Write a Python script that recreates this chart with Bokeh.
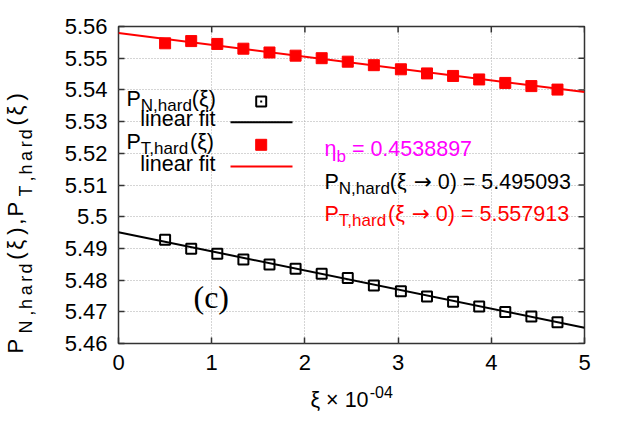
import math
from bokeh.plotting import figure
from bokeh.layouts import row, column
from bokeh.models import Range1d, Label, FixedTicker, CustomJSTickFormatter
from bokeh.embed import file_html
from bokeh.resources import INLINE

# ---------------- data ----------------
xi = [0.50, 0.78, 1.06, 1.34, 1.62, 1.90, 2.18, 2.46, 2.74, 3.03, 3.31, 3.59, 3.87, 4.15, 4.43, 4.71]
p_n_hard = [5.4927, 5.4899, 5.4883, 5.4865, 5.4849, 5.4836, 5.4820, 5.4807,
            5.4783, 5.4765, 5.4748, 5.4732, 5.4717, 5.4699, 5.4685, 5.4667]
p_t_hard = [5.5547, 5.5554, 5.5545, 5.5530, 5.5518, 5.5508, 5.5500, 5.5489,
            5.5478, 5.5465, 5.5452, 5.5444, 5.5433, 5.5422, 5.5412, 5.5401]
fit_n_intercept, fit_n_slope = 5.495093, -0.00602
fit_t_intercept, fit_t_slope = 5.557913, -0.00372
fit_x = [0.0, 5.0]
eta_b_text = "0.4538897"
pn0_text = "5.495093"
pt0_text = "5.557913"
x_ticks = [0, 1, 2, 3, 4, 5]
y_ticks = [5.46, 5.47, 5.48, 5.49, 5.50, 5.51, 5.52, 5.53, 5.54, 5.55, 5.56]

# ---------------- layout (page pixels) ----------------
PAGE_W, PAGE_H = 623, 436
YLAB_W = 45                     # left strip holding the y-axis title
MAIN_W, MAIN_H = PAGE_W - YLAB_W, 383
XLAB_H = PAGE_H - MAIN_H        # bottom strip holding the x-axis title
FL, FR, FT, FB = 118, 584, 26, 343   # frame edges in page pixels
X0, X1 = 0.0, 5.0
Y0, Y1 = 5.46, 5.56
FW, FH = FR - FL, FB - FT
FONT = "Liberation Sans"
SERIF = "Liberation Serif"
MAIN = 21.5
SUB = 17
TICK = 6
K_BASE = {FONT: 0.40, SERIF: 0.35, "DejaVu Sans": 0.40}   # baseline correction


def dx(px):
    return X0 + (px - FL) / FW * (X1 - X0)


def dy(py):
    return Y1 - (py - FT) / FH * (Y1 - Y0)


AW = {'P': .667, 'N': .722, 'T': .611, ',': .278, 'h': .556, 'a': .556, 'r': .333,
      'd': .556, '(': .333, ')': .333, ' ': .278, '=': .584, '.': .278, 'b': .556,
      'η': .556, 'ξ': .5, '→': .838, '×': .584, '-': .333, 'l': .222, 'i': .222,
      'n': .556, 'e': .556, 'f': .278, 't': .278}


def tw(s, size):
    return sum(AW.get(c, .556) for c in s) * size


p = figure(width=MAIN_W, height=MAIN_H, x_range=Range1d(X0, X1), y_range=Range1d(Y0, Y1),
           output_backend="svg", toolbar_location=None,
           min_border_left=FL - YLAB_W, min_border_right=PAGE_W - FR,
           min_border_top=FT, min_border_bottom=MAIN_H - FB)
p.background_fill_color = "white"
p.border_fill_color = "white"
p.outline_line_color = "#333333"
p.outline_line_width = 1.5

xax = p.below[0]
yax = p.left[0]
xax.ticker = FixedTicker(ticks=x_ticks)
yax.ticker = FixedTicker(ticks=y_ticks)
yax.formatter = CustomJSTickFormatter(code="return String(Math.round(tick*100)/100)")

for ax in (xax, yax):
    ax.axis_line_color = None
    ax.major_tick_in = TICK
    ax.major_tick_out = 0
    ax.major_tick_line_color = "#333333"
    ax.major_tick_line_width = 1.5
    ax.minor_tick_line_color = None
    ax.major_label_text_font = FONT
    ax.major_label_text_font_size = "22px"
    ax.major_label_text_color = "black"
yax.major_label_standoff = 11
xax.major_label_standoff = 11

for g in (p.xgrid[0], p.ygrid[0]):
    g.grid_line_color = "#aaaaaa"
    g.grid_line_dash = "1 2"
    g.grid_line_width = 1

# mirrored inward ticks on top and right border
tx = (X1 - X0) * TICK / FW
ty = (Y1 - Y0) * TICK / FH
p.segment(x0=x_ticks, y0=[Y1] * len(x_ticks), x1=x_ticks, y1=[Y1 - ty] * len(x_ticks),
          line_color="#333333", line_width=1.5)
p.segment(x0=[X1] * len(y_ticks), y0=y_ticks, x1=[X1 - tx] * len(y_ticks), y1=y_ticks,
          line_color="#333333", line_width=1.5)

# ---------------- data marks ----------------
fit_n_y = [fit_n_intercept + fit_n_slope * x for x in fit_x]
fit_t_y = [fit_t_intercept + fit_t_slope * x for x in fit_x]

p.scatter(xi, p_n_hard, marker="square", size=10, fill_color=None,
          line_color="black", line_width=2)
p.line(fit_x, fit_n_y, line_color="black", line_width=2)
p.scatter(xi, p_t_hard, marker="square", size=11, fill_color="red",
          line_color="red", line_width=1)
p.line(fit_x, fit_t_y, line_color="red", line_width=2)

# ---------------- legend samples ----------------
p.scatter([dx(260.7)], [dy(101)], marker="square", size=10, fill_color=None,
          line_color="black", line_width=2)
p.scatter([dx(260.7)], [dy(101)], marker="square", size=2, fill_color="black",
          line_color=None)
p.line([dx(230), dx(292)], [dy(121.7), dy(121.7)], line_color="black", line_width=2)
p.scatter([dx(260.7)], [dy(144.3)], marker="square", size=11, fill_color="red",
          line_color="red", line_width=1)
p.line([dx(230), dx(292)], [dy(166), dy(166)], line_color="red", line_width=2)


def add_label(fig, to_x, to_y, x_px, y_px, text, size, color="black", align="left",
              rotated=False, font=FONT):
    k = K_BASE.get(font, 0.4) * size
    if rotated:
        x_px -= k
    else:
        y_px -= k
    fig.add_layout(Label(x=to_x(x_px), y=to_y(y_px), text=text, text_font=font,
                         text_font_size=f"{size}px", text_color=color,
                         text_baseline="alphabetic", text_align=align,
                         angle=(math.pi / 2 if rotated else 0.0), angle_units="rad"))


def run(fig, to_x, to_y, pieces, x_px, base_px, color):
    cur = x_px
    for piece in pieces:
        txt, size, shift = piece[:3]
        font = piece[3] if len(piece) > 3 else FONT
        stripped = txt.lstrip(" ")
        cur += tw(txt[:len(txt) - len(stripped)], size)
        add_label(fig, to_x, to_y, cur, base_px + shift, stripped, size, color, font=font)
        cur += tw(stripped, size)


run(p, dx, dy, [("P", MAIN, 0), ("N,hard", SUB, 5), ("(ξ)", MAIN, 0)], 126.0, 106.7, "black")
add_label(p, dx, dy, 215, 127.3, "linear fit", MAIN, "black", align="right")
run(p, dx, dy, [("P", MAIN, 0), ("T,hard", SUB, 5), ("(ξ)", MAIN, 0)], 126.0, 150.0, "black")
add_label(p, dx, dy, 215, 171.7, "linear fit", MAIN, "black", align="right")

# ---------------- annotations ----------------
run(p, dx, dy, [("η", MAIN, 0), ("b", SUB, 5.5), (" = " + eta_b_text, MAIN, 0)],
    324.0, 157.3, "#ff00ff")
run(p, dx, dy, [("P", MAIN, 0), ("N,hard", SUB, 5), ("(ξ ", MAIN, 0), ("→", MAIN, 0, "DejaVu Sans"),
                (" 0) = " + pn0_text, MAIN, 0)], 324.0, 190.0, "black")
run(p, dx, dy, [("P", MAIN, 0), ("T,hard", SUB, 5), ("(ξ ", MAIN, 0), ("→", MAIN, 0, "DejaVu Sans"),
                (" 0) = " + pt0_text, MAIN, 0)], 324.0, 221.7, "#ff0000")

add_label(p, dx, dy, 193, 308, "(c)", 32, "black", font=SERIF)


# ---------------- axis titles in their own strips (ranges = page pixels) ----------------
def strip(w, h, xr, yr):
    f = figure(width=w, height=h, x_range=Range1d(*xr), y_range=Range1d(*yr),
               output_backend="svg", toolbar_location=None,
               x_axis_type=None, y_axis_type=None,
               min_border_left=0, min_border_right=0, min_border_top=0, min_border_bottom=0)
    f.outline_line_color = None
    f.grid.visible = False
    f.background_fill_color = "white"
    f.border_fill_color = "white"
    return f


ident = lambda v: v
ylab = strip(YLAB_W, PAGE_H, (0, YLAB_W), (PAGE_H, 0))
# the bottom strip's frame is aligned with the main frame by the column layout
xlab = strip(MAIN_W, XLAB_H, (FL, FR), (PAGE_H, MAIN_H))

run(xlab, ident, ident, [("ξ × 10", MAIN, 0), ("-04", 16, -10)], 310.0, 408.0, "black")

# y title, rotated, reading upwards, letter-spaced like the reference
ypieces = [("P", 22, 0), ("N,hard", 18, 9), ("(ξ),P", 22, 0), ("T,hard", 18, 9), ("(ξ)", 22, 0)]
natural = sum(tw(t, s) for t, s, _ in ypieces)
stretch = (353.0 - 90.0) / natural
cur_y = 353.0
for txt, size, shift in ypieces:
    for ch in txt:
        add_label(ylab, ident, ident, 24.0 + shift, cur_y, ch, size, "black", rotated=True)
        cur_y -= tw(ch, size) * stretch

layout = row(ylab, column(p, xlab, spacing=0), spacing=0)
open("out.html", "w").write(file_html(layout, INLINE))
